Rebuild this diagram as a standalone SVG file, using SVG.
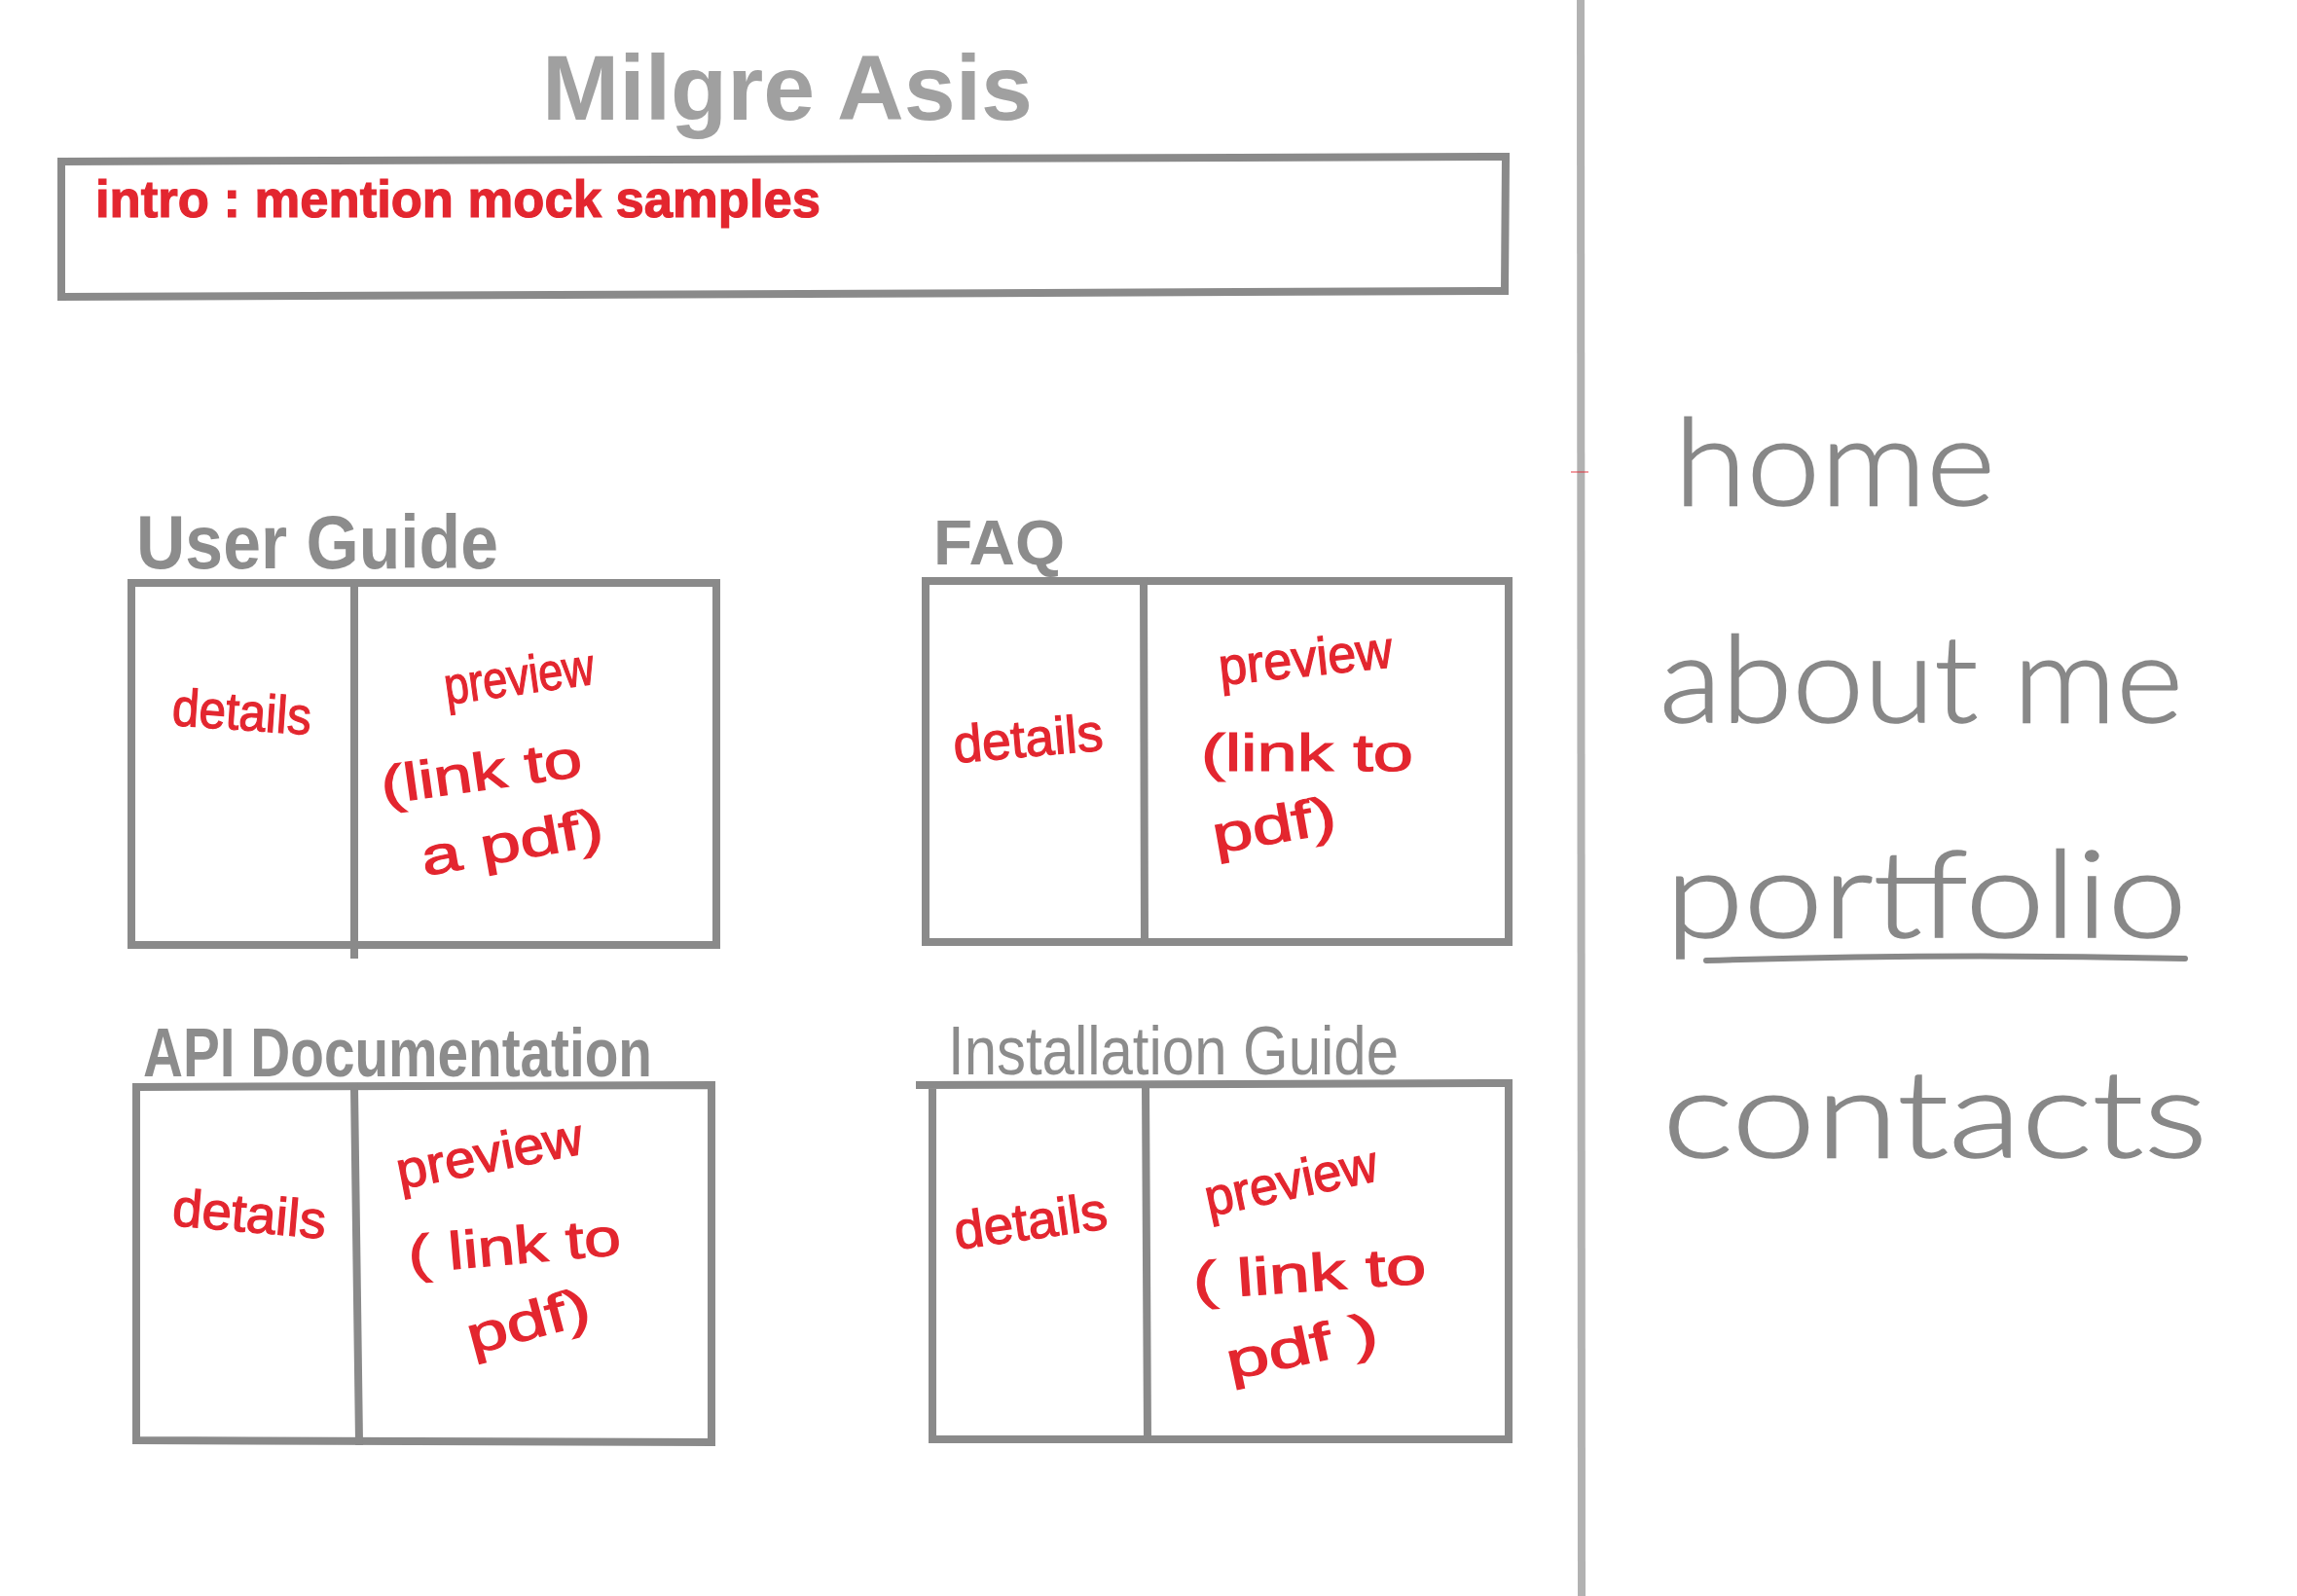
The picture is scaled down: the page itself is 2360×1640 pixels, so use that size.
<svg xmlns="http://www.w3.org/2000/svg" width="2360" height="1640" viewBox="0 0 2360 1640">
  <style>
    .frame { fill: none; stroke: #8a8a8a; stroke-width: 8; stroke-linecap: square; stroke-linejoin: miter; }
    .title { font-family: "Liberation Sans", Arial, sans-serif; font-weight: bold; fill: #a0a0a0; }
    .label { font-family: "Liberation Sans", Arial, sans-serif; font-weight: bold; fill: #8c8c8c; }
    .label-thin { font-family: "Liberation Sans", Arial, sans-serif; font-weight: normal; fill: #8c8c8c; }
    .note { font-family: "Liberation Sans", Arial, sans-serif; fill: #e3262f; stroke: #e3262f; stroke-width: 1.2; font-size: 54px; }
    .nav { font-family: Lato, Roboto, "Open Sans", sans-serif; font-weight: 300; fill: #888888; stroke: #888888; stroke-width: 1.5; font-size: 125px; }
  </style>

  <rect width="2360" height="1640" fill="#ffffff"/>

  <!-- page split between content and side navigation -->
  <g id="page-divider">
    <line x1="1624" y1="0" x2="1625" y2="1640" stroke="#b2b2b2" stroke-width="8"/>
    <line x1="1614" y1="485" x2="1632" y2="485" stroke="#e3262f" stroke-width="1.5" opacity="0.6"/>
  </g>

  <!-- heading -->
  <g id="title">
    <text class="title" x="557" y="123" font-size="94" textLength="504" lengthAdjust="spacingAndGlyphs">Milgre Asis</text>
  </g>

  <!-- intro banner -->
  <g id="intro">
    <path class="frame" d="M63,166 L1547,161 L1546,299 L63,305 Z" stroke-width="7"/>
    <text class="note" x="98" y="223" font-size="44" font-weight="bold" stroke-width="0" textLength="745" lengthAdjust="spacingAndGlyphs">intro : mention  mock  samples</text>
  </g>

  <!-- User Guide card -->
  <g id="user-guide">
    <text class="label" x="140" y="584" font-size="78" textLength="372" lengthAdjust="spacingAndGlyphs">User Guide</text>
    <path class="frame" d="M135,599 L736,599 L736,971 L135,971 Z"/>
    <line class="frame" x1="364" y1="599" x2="364" y2="981"/>
    <text class="note" transform="rotate(4 176 745)" x="176" y="745" textLength="143" lengthAdjust="spacingAndGlyphs">details</text>
    <text class="note" transform="rotate(-8 459 724)" x="459" y="724" textLength="155" lengthAdjust="spacingAndGlyphs">preview</text>
    <text class="note" transform="rotate(-8 394 826)" x="394" y="826" textLength="208" lengthAdjust="spacingAndGlyphs">(link to</text>
    <text class="note" transform="rotate(-10 436 900)" x="436" y="900" textLength="189" lengthAdjust="spacingAndGlyphs">a pdf)</text>
  </g>

  <!-- FAQ card -->
  <g id="faq">
    <text class="label" x="959" y="580" font-size="64" textLength="135" lengthAdjust="spacingAndGlyphs">FAQ</text>
    <path class="frame" d="M951,597 L1550,597 L1550,968 L951,968 Z"/>
    <line class="frame" x1="1175" y1="597" x2="1176" y2="968"/>
    <text class="note" transform="rotate(-5 981 784)" x="981" y="784" textLength="154" lengthAdjust="spacingAndGlyphs">details</text>
    <text class="note" transform="rotate(-6 1254 704)" x="1254" y="704" textLength="179" lengthAdjust="spacingAndGlyphs">preview</text>
    <text class="note" x="1234" y="792" textLength="218" lengthAdjust="spacingAndGlyphs">(link to</text>
    <text class="note" transform="rotate(-10 1249 877)" x="1249" y="877" textLength="128" lengthAdjust="spacingAndGlyphs">pdf)</text>
  </g>

  <!-- API Documentation card -->
  <g id="api-documentation">
    <text class="label" x="147" y="1106" font-size="70" textLength="523" lengthAdjust="spacingAndGlyphs">API Documentation</text>
    <path class="frame" d="M140,1117 L731,1115 L731,1482 L140,1480 Z"/>
    <line class="frame" x1="364" y1="1117" x2="369" y2="1481"/>
    <text class="note" transform="rotate(5 176 1259)" x="176" y="1259" textLength="158" lengthAdjust="spacingAndGlyphs">details</text>
    <text class="note" transform="rotate(-11 411 1222)" x="411" y="1222" textLength="194" lengthAdjust="spacingAndGlyphs">preview</text>
    <text class="note" transform="rotate(-5 421 1308)" x="421" y="1308" textLength="219" lengthAdjust="spacingAndGlyphs">( link to</text>
    <text class="note" transform="rotate(-15 485 1392)" x="485" y="1392" textLength="129" lengthAdjust="spacingAndGlyphs">pdf)</text>
  </g>

  <!-- Installation Guide card -->
  <g id="installation-guide">
    <text class="label-thin" x="974" y="1104" font-size="70" textLength="463" lengthAdjust="spacingAndGlyphs">Installation  Guide</text>
    <path class="frame" d="M945,1115 L1550,1113 L1550,1479 L958,1479 L958,1115"/>
    <line class="frame" x1="1177" y1="1115" x2="1179" y2="1479"/>
    <text class="note" transform="rotate(-8 983 1284)" x="983" y="1284" textLength="158" lengthAdjust="spacingAndGlyphs">details</text>
    <text class="note" transform="rotate(-12 1242 1250)" x="1242" y="1250" textLength="180" lengthAdjust="spacingAndGlyphs">preview</text>
    <text class="note" transform="rotate(-4 1227 1335)" x="1227" y="1335" textLength="240" lengthAdjust="spacingAndGlyphs">( link to</text>
    <text class="note" transform="rotate(-12 1264 1418)" x="1264" y="1418" textLength="158" lengthAdjust="spacingAndGlyphs">pdf )</text>
  </g>

  <!-- side navigation -->
  <g id="nav-home">
    <text class="nav" x="1720" y="519" textLength="330" lengthAdjust="spacingAndGlyphs">home</text>
  </g>
  <g id="nav-about">
    <text class="nav" x="1705" y="742" textLength="538" lengthAdjust="spacingAndGlyphs">about me</text>
  </g>
  <g id="nav-portfolio">
    <text class="nav" x="1711" y="963" textLength="536" lengthAdjust="spacingAndGlyphs">portfolio</text>
    <path d="M1753,987 Q2000,979 2245,985" fill="none" stroke="#888888" stroke-width="6" stroke-linecap="round"/>
  </g>
  <g id="nav-contacts">
    <text class="nav" x="1708" y="1189" textLength="560" lengthAdjust="spacingAndGlyphs">contacts</text>
  </g>
</svg>
